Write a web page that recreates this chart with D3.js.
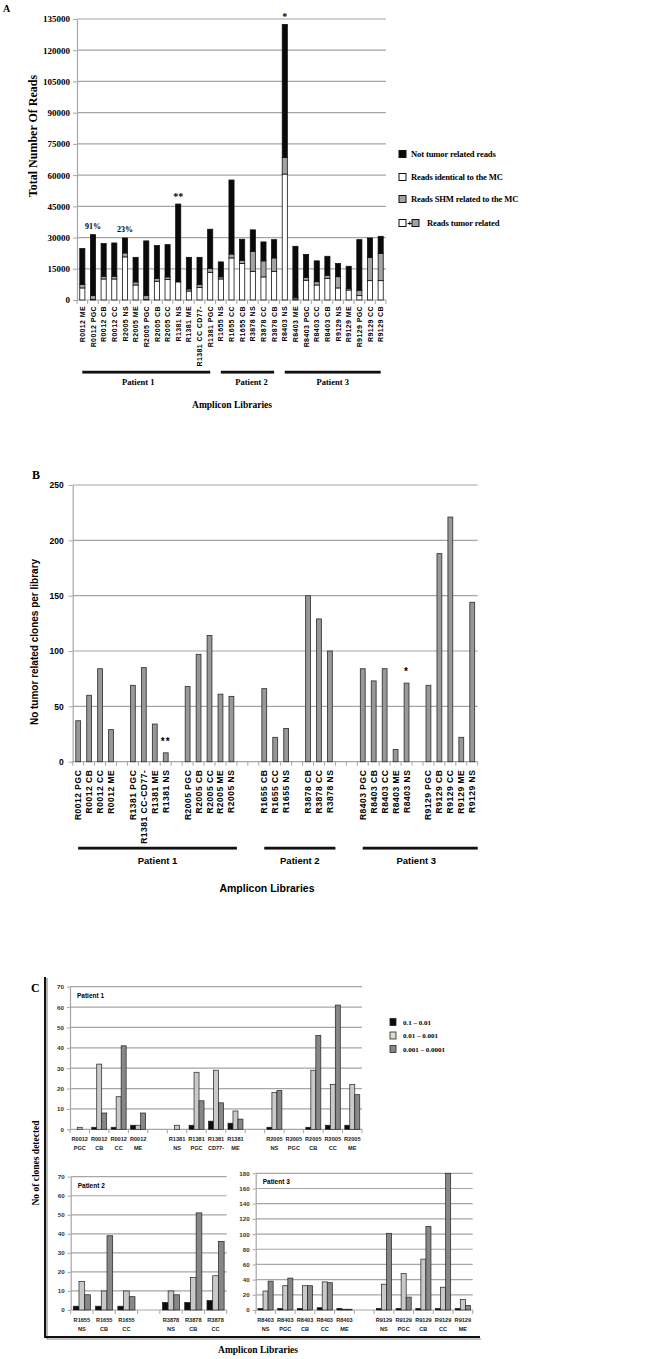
<!DOCTYPE html>
<html>
<head>
<meta charset="utf-8">
<script src="https://cdn.jsdelivr.net/npm/d3@7"></script>
<style>
  body { margin: 0; background: #fff; }
</style>
</head>
<body>
<svg id="fig" width="667" height="1359"></svg>
<script>
'use strict';

// ---- Panel A : reads per amplicon library (stacked) ----
var aLibraries = ['R0012 ME', 'R0012 PGC', 'R0012 CB', 'R0012 CC', 'R2005 NS', 'R2005 ME', 'R2005 PGC',
    'R2005 CB', 'R2005 CC', 'R1381 NS', 'R1381 ME', 'R1381 CC CD77-', 'R1381 PGC', 'R1655 NS', 'R1655 CC',
    'R1655 CB', 'R3878 NS', 'R3878 CC', 'R3878 CB', 'R8403 NS', 'R8403 ME', 'R8403 PGC', 'R8403 CC',
    'R8403 CB', 'R9129 NS', 'R9129 ME', 'R9129 PGC', 'R9129 CC', 'R9129 CB'];
var aIdentical = [5800, 300, 10100, 10100, 20700, 7200, 200, 9000, 9800, 8700, 4300, 6100, 13300, 10100,
    20200, 17500, 13800, 11100, 13800, 60500, 500, 9500, 7200, 10400, 5800, 4800, 2100, 9300, 9300];
var aShm = [1600, 1800, 1300, 1300, 1900, 1500, 1900, 1400, 1300, 200, 1000, 1400, 1900, 1000,
    1900, 1600, 9500, 7700, 6400, 7900, 800, 1400, 1600, 1500, 5400, 650, 2550, 11200, 13000];
var aNotTumor = [17300, 29300, 15700, 16000, 7200, 11800, 26300, 15750, 15500, 37200, 15200, 13000, 18800, 7200,
    35550, 10100, 10400, 9100, 8800, 64000, 24500, 11000, 10000, 9100, 6300, 10750, 24350, 9300, 8300];
var aTicks = [0, 15000, 30000, 45000, 60000, 75000, 90000, 105000, 120000, 135000];
var aNoteIndex = [1, 4, 9, 19];
var aNoteText = ['91%', '23%', '**', '*'];
var aLegend = ['Not tumor related reads', 'Reads identical to the MC', 'Reads SHM related to the MC', 'Reads tumor related'];

// patient groups (index of first / last library in each panel)
var patientNames = ['Patient 1', 'Patient 2', 'Patient 3'];
var aPatientFirst = [0, 13, 19];
var aPatientLast = [12, 18, 28];

// ---- Panel B : not tumor related clones per library ----
var bLibraries = ['R0012 PGC', 'R0012 CB', 'R0012 CC', 'R0012 ME', '', 'R1381 PGC', 'R1381 CC-CD77-',
    'R1381 ME', 'R1381 NS', '', 'R2005 PGC', 'R2005 CB', 'R2005 CC', 'R2005 ME', 'R2005 NS', '', '',
    'R1655 CB', 'R1655 CC', 'R1655 NS', '', 'R3878 CB', 'R3878 CC', 'R3878 NS', '', '',
    'R8403 PGC', 'R8403 CB', 'R8403 CC', 'R8403 ME', 'R8403 NS', '',
    'R9129 PGC', 'R9129 CB', 'R9129 CC', 'R9129 ME', 'R9129 NS'];
var bClones = [37, 60, 84, 29, null, 69, 85, 34, 8, null, 68, 97, 114, 61, 59, null, null,
    66, 22, 30, null, 150, 129, 100, null, null, 84, 73, 84, 11, 71, null, 69, 188, 221, 22, 144];
var bTicks = [0, 50, 100, 150, 200, 250];
var bNoteIndex = [8, 30];
var bNoteText = ['**', '*'];
var bPatientFirst = [0, 17, 26];
var bPatientLast = [14, 23, 36];

// ---- Panel C : clones detected per frequency class ----
var cSeries = ['0.1 \u2013 0.01', '0.01 \u2013 0.001', '0.001 \u2013 0.0001'];

var c1Libraries = ['R0012 PGC', 'R0012 CB', 'R0012 CC', 'R0012 ME', '', 'R1381 NS', 'R1381 PGC',
    'R1381 CD77-', 'R1381 ME', '', 'R2005 NS', 'R2005 PGC', 'R2005 CB', 'R2005 CC', 'R2005 ME'];
var c1High = [0, 1, 1, 2, null, 0, 2, 4, 3, null, 1, 0, 1, 2, 2];
var c1Mid = [1, 32, 16, 2, null, 2, 28, 29, 9, null, 18, 0, 29, 22, 22];
var c1Low = [0, 8, 41, 8, null, 0, 14, 13, 5, null, 19, 0, 46, 61, 17];

var c2Libraries = ['R1655 NS', 'R1655 CB', 'R1655 CC', '', 'R3878 NS', 'R3878 CB', 'R3878 CC'];
var c2High = [2, 2, 2, null, 4, 4, 5];
var c2Mid = [15, 10, 10, null, 10, 17, 18];
var c2Low = [8, 39, 7, null, 8, 51, 36];

var c3Libraries = ['R8403 NS', 'R8403 PGC', 'R8403 CB', 'R8403 CC', 'R8403 ME', '',
    'R9129 NS', 'R9129 PGC', 'R9129 CB', 'R9129 CC', 'R9129 ME'];
var c3High = [2, 2, 2, 3, 2, null, 2, 2, 2, 2, 2];
var c3Mid = [25, 32, 32, 37, 1, null, 34, 48, 67, 30, 14];
var c3Low = [38, 42, 32, 36, 1, null, 101, 17, 110, 180, 6];

// ---------------------------------------------------------------------------

var svg = d3.select('#fig');
var SERIF = '"Liberation Serif", "Times New Roman", serif';
var SANS = '"Liberation Sans", Arial, sans-serif';
var GRID = '#a6a6a6';

/**
 * Gridlines + left axis with labels
 */
function gridAxis(g, y, ticks, x0, x1, o) {
    g.append('g').selectAll('line').data(ticks).join('line')
        .attr('x1', x0).attr('x2', x1)
        .attr('y1', function (d) { return y(d); })
        .attr('y2', function (d) { return y(d); })
        .attr('stroke', GRID)
        .attr('stroke-width', 1.2);

    var ax = g.append('g')
        .attr('transform', 'translate(' + x0 + ',0)')
        .call(d3.axisLeft(y).tickValues(ticks).tickFormat(d3.format('d'))
            .tickSizeOuter(0).tickSizeInner(o.tick).tickPadding(o.pad));
    ax.select('.domain').attr('stroke', GRID).attr('stroke-width', 1.2);
    ax.selectAll('.tick line').attr('stroke', GRID);
    ax.selectAll('text')
        .attr('font-family', o.font)
        .attr('font-size', o.size)
        .attr('font-weight', 'bold')
        .attr('fill', o.color || '#000');
}

/**
 * Small tick marks on the category boundaries
 */
function slotTicks(g, x, y0, len) {
    var bounds = x.domain().map(function (d) { return x(d); }).concat([x.range()[1]]);
    g.append('g').selectAll('line').data(bounds).join('line')
        .attr('x1', function (d) { return d; })
        .attr('x2', function (d) { return d; })
        .attr('y1', y0).attr('y2', y0 + len)
        .attr('stroke', GRID);
}

/**
 * Thick underline with the patient name
 */
function patientLine(g, xa, xb, y, name, dy, font, size, shift) {
    g.append('line').attr('x1', xa).attr('x2', xb).attr('y1', y + 1.2).attr('y2', y + 1.2)
        .attr('stroke', '#9a9a9a').attr('stroke-width', 1.5);
    g.append('line').attr('x1', xa).attr('x2', xb).attr('y1', y).attr('y2', y)
        .attr('stroke', '#111').attr('stroke-width', 2.4);
    g.append('text')
        .attr('x', (xa + xb) / 2 + (shift || 0)).attr('y', y + dy)
        .attr('text-anchor', 'middle')
        .attr('font-family', font).attr('font-size', size).attr('font-weight', 'bold')
        .text(name);
}

function label(x, y, txt, font, size, o) {
    o = o || {};
    var t = svg.append('text')
        .attr('x', x).attr('y', y)
        .attr('font-family', font).attr('font-size', size).attr('font-weight', 'bold')
        .attr('text-anchor', o.anchor || 'start')
        .text(txt);
    if (o.rotate) {
        t.attr('transform', 'rotate(-90,' + x + ',' + y + ')');
    }
    return t;
}

// ================================ Panel A ==================================
(function () {
    var g = svg.append('g');
    var x0 = 77, x1 = 386, y0 = 300, y1 = 19;
    var x = d3.scaleBand().domain(d3.range(aLibraries.length)).range([x0, x1]);
    var y = d3.scaleLinear().domain([0, 135000]).range([y0, y1]);
    var bw = x.bandwidth();

    gridAxis(g, y, aTicks, x0, x1, { tick: 4, pad: 3, font: SERIF, size: 9 });
    slotTicks(g, x, y0, 4);

    var rows = aLibraries.map(function (name, i) {
        return { name: name, identical: aIdentical[i], shm: aShm[i], other: aNotTumor[i] };
    });
    var stack = d3.stack().keys(['identical', 'shm', 'other'])(rows);
    var fills = { identical: '#ffffff', shm: '#a3a3a3', other: '#0a0a0a' };

    g.append('g').selectAll('g').data(stack).join('g')
        .attr('fill', function (s) { return fills[s.key]; })
        .selectAll('rect').data(function (s) { return s; }).join('rect')
        .attr('x', function (d, i) { return x(i) + bw * 0.26; })
        .attr('width', bw * 0.48)
        .attr('y', function (d) { return y(d[1]); })
        .attr('height', function (d) { return y(d[0]) - y(d[1]); })
        .attr('stroke', '#111')
        .attr('stroke-width', 0.8);

    // notes above bars
    aNoteIndex.forEach(function (i, k) {
        var tot = aIdentical[i] + aShm[i] + aNotTumor[i];
        var pct = aNoteText[k].indexOf('%') > 0;
        g.append('text')
            .attr('x', x(i) + bw / 2).attr('y', y(tot) - (pct ? 6 : 4))
            .attr('text-anchor', 'middle')
            .attr('font-family', SERIF).attr('font-size', pct ? 8 : 10)
            .attr('font-weight', 'bold')
            .text(aNoteText[k]);
    });

    // rotated library names
    g.append('g').selectAll('text').data(aLibraries).join('text')
        .attr('transform', function (d, i) { return 'translate(' + (x(i) + bw / 2 + 2.6) + ',' + (y0 + 6) + ') rotate(-90)'; })
        .attr('text-anchor', 'end')
        .attr('font-family', SANS).attr('font-size', 7).attr('font-weight', 'bold')
        .attr('letter-spacing', 0.4)
        .text(function (d) { return d; });

    var shifts = [-8, 4, 0];
    patientNames.forEach(function (p, k) {
        patientLine(g, x(aPatientFirst[k]) + bw / 2, x(aPatientLast[k]) + bw / 2, 372, p, 13, SERIF, 8.5, shifts[k]);
    });

    label(232, 408, 'Amplicon Libraries', SERIF, 9.5, { anchor: 'middle' });
    label(37, 136, 'Total Number Of Reads', SERIF, 12, { anchor: 'middle', rotate: true });
    label(3, 12, 'A', SERIF, 10);

    // legend
    var lg = g.append('g');
    var ly = [154, 177, 199, 223];
    var sq = 7;
    lg.append('rect').attr('x', 399).attr('y', ly[0] - sq / 2).attr('width', sq).attr('height', sq).attr('fill', fills.other).attr('stroke', '#111');
    lg.append('rect').attr('x', 399).attr('y', ly[1] - sq / 2).attr('width', sq).attr('height', sq).attr('fill', fills.identical).attr('stroke', '#111');
    lg.append('rect').attr('x', 399).attr('y', ly[2] - sq / 2).attr('width', sq).attr('height', sq).attr('fill', fills.shm).attr('stroke', '#111');
    lg.append('rect').attr('x', 399).attr('y', ly[3] - sq / 2).attr('width', sq).attr('height', sq).attr('fill', fills.identical).attr('stroke', '#111');
    lg.append('text').attr('x', 407.2).attr('y', ly[3] + 3).attr('font-family', SANS).attr('font-size', 8).attr('font-weight', 'bold').text('+');
    lg.append('rect').attr('x', 412).attr('y', ly[3] - sq / 2).attr('width', sq).attr('height', sq).attr('fill', fills.shm).attr('stroke', '#111');
    aLegend.forEach(function (t, k) {
        lg.append('text')
            .attr('x', k === 3 ? 427 : 411).attr('y', ly[k] + 3)
            .attr('font-family', SERIF).attr('font-size', 8.6).attr('font-weight', 'bold')
            .attr('letter-spacing', -0.15)
            .text(t);
    });
})();

// ================================ Panel B ==================================
(function () {
    var g = svg.append('g');
    var x0 = 72.7, x1 = 477.7, y0 = 761.7, y1 = 485;
    var x = d3.scaleBand().domain(d3.range(bLibraries.length)).range([x0, x1]);
    var y = d3.scaleLinear().domain([0, 250]).range([y0, y1]);
    var bw = x.bandwidth();

    gridAxis(g, y, bTicks, x0, x1, { tick: 4, pad: 5, font: SANS, size: 8.5 });
    slotTicks(g, x, y0, 4);

    var bars = bClones.map(function (v, i) { return { i: i, v: v }; })
        .filter(function (d) { return d.v !== null; });

    g.append('g').selectAll('rect').data(bars).join('rect')
        .attr('x', function (d) { return x(d.i) + bw * 0.28; })
        .attr('width', bw * 0.44)
        .attr('y', function (d) { return y(d.v); })
        .attr('height', function (d) { return y0 - y(d.v); })
        .attr('fill', '#989898')
        .attr('stroke', '#3a3a3a')
        .attr('stroke-width', 0.9);

    bNoteIndex.forEach(function (i, k) {
        g.append('text')
            .attr('x', x(i) + bw / 2).attr('y', y(bClones[i]) - 8)
            .attr('text-anchor', 'middle')
            .attr('font-family', SANS).attr('font-size', 10).attr('font-weight', 'bold')
            .attr('letter-spacing', 1)
            .text(bNoteText[k]);
    });

    g.append('g').selectAll('text').data(bLibraries).join('text')
        .attr('transform', function (d, i) { return 'translate(' + (x(i) + bw / 2 + 3) + ',' + (y0 + 8) + ') rotate(-90)'; })
        .attr('text-anchor', 'end')
        .attr('font-family', SANS).attr('font-size', 8.5).attr('font-weight', 'bold')
        .attr('letter-spacing', 0.5)
        .text(function (d) { return d; });

    patientNames.forEach(function (p, k) {
        patientLine(g, x(bPatientFirst[k]) + bw / 2, x(bPatientLast[k]) + bw, 848, p, 16, SANS, 9.5, k === 2 ? -4 : 0);
    });

    label(267, 892, 'Amplicon Libraries', SANS, 10.5, { anchor: 'middle' });
    label(38, 642, 'No tumor related  clones per library', SANS, 10, { anchor: 'middle', rotate: true });
    label(32, 479, 'B', SERIF, 12);
})();

// ================================ Panel C ==================================
var cColors = ['#0d0d0d', '#c9c9c9', '#878787'];

/**
 * One grouped-bar sub chart of panel C
 */
function clonePanel(libs, series, box, yMax, yStep, title) {
    var g = svg.append('g');
    var x = d3.scaleBand().domain(d3.range(libs.length)).range([box.x0, box.x1]);
    var y = d3.scaleLinear().domain([0, yMax]).range([box.y0, box.y1]);
    var inner = d3.scaleBand().domain(d3.range(series.length)).range([0, x.bandwidth()]).paddingOuter(0.45);

    gridAxis(g, y, d3.range(0, yMax + 1, yStep), box.x0, box.x1,
        { tick: 3, pad: 3, font: SANS, size: 6.2, color: '#333' });
    slotTicks(g, x, box.y0, 4);

    series.forEach(function (vals, k) {
        var bars = vals.map(function (v, i) { return { i: i, v: v }; })
            .filter(function (d) { return d.v; });
        g.append('g').selectAll('rect').data(bars).join('rect')
            .attr('x', function (d) { return x(d.i) + inner(k); })
            .attr('width', inner.bandwidth())
            .attr('y', function (d) { return y(d.v); })
            .attr('height', function (d) { return box.y0 - y(d.v); })
            .attr('fill', cColors[k])
            .attr('stroke', '#222')
            .attr('stroke-width', 0.7);
    });

    // two-line library names
    var lab = g.append('g').selectAll('text').data(libs).join('text')
        .attr('x', function (d, i) { return x(i) + x.bandwidth() / 2; })
        .attr('y', box.y0 + 12)
        .attr('text-anchor', 'middle')
        .attr('font-family', SANS).attr('font-size', 5.6).attr('font-weight', 'bold')
        .attr('fill', '#222');
    lab.append('tspan').text(function (d) { return d.split(' ')[0]; });
    lab.append('tspan')
        .attr('x', function (d, i) { return x(i) + x.bandwidth() / 2; })
        .attr('dy', 9)
        .text(function (d) { return d.split(' ')[1] || ''; });

    g.append('text')
        .attr('x', box.x0 + 7).attr('y', box.y1 + 11)
        .attr('font-family', SANS).attr('font-size', 6.5).attr('font-weight', 'bold')
        .text(title);
}

clonePanel(c1Libraries, [c1High, c1Mid, c1Low], { x0: 70, x1: 362, y0: 1129.3, y1: 986.7 }, 70, 10, 'Patient 1');
clonePanel(c2Libraries, [c2High, c2Mid, c2Low], { x0: 70.7, x1: 226.7, y0: 1310, y1: 1176.7 }, 70, 10, 'Patient 2');
clonePanel(c3Libraries, [c3High, c3Mid, c3Low], { x0: 255.7, x1: 472.7, y0: 1310, y1: 1173.3 }, 180, 20, 'Patient 3');

(function () {
    // frame, titles and legend of panel C
    svg.append('path')
        .attr('d', 'M46,977 L46,1338 L480,1338')
        .attr('fill', 'none')
        .attr('stroke', '#8a8a8a')
        .attr('stroke-width', 1.2)
        .attr('transform', 'translate(1,1)');
    svg.append('path')
        .attr('d', 'M45,977 L45,1337 L480,1337')
        .attr('fill', 'none')
        .attr('stroke', '#111')
        .attr('stroke-width', 2);

    label(31, 992, 'C', SERIF, 12);
    label(39, 1163, 'No of clones detected', SERIF, 9.5, { anchor: 'middle', rotate: true });
    label(258, 1353, 'Amplicon Libraries', SERIF, 9.5, { anchor: 'middle' });

    var lyc = [1022, 1035.5, 1049];
    cSeries.forEach(function (t, k) {
        svg.append('rect')
            .attr('x', 390).attr('y', lyc[k] - 3.5).attr('width', 6).attr('height', 7)
            .attr('fill', k === 1 ? '#dcdcce' : cColors[k]).attr('stroke', '#222').attr('stroke-width', 0.8);
        label(403, lyc[k] + 2.5, t, SERIF, 7, {});
    });
})();
</script>
</body>
</html>
